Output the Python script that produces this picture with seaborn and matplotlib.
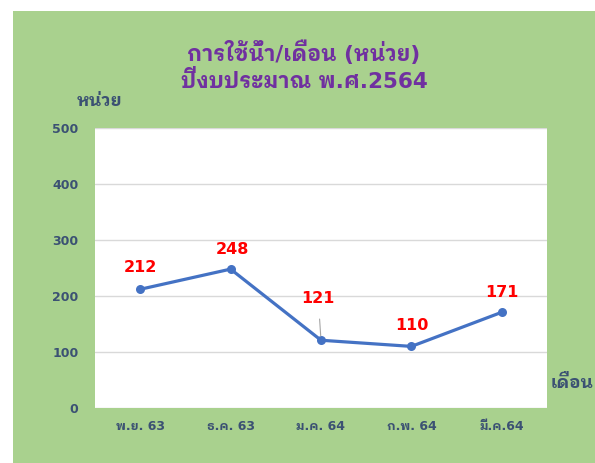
import matplotlib
matplotlib.use("Agg")
import matplotlib.pyplot as plt
from matplotlib.patches import Rectangle
import seaborn as sns
import pandas as pd

# data
months = ["พ.ย. 63", "ธ.ค. 63", "ม.ค. 64", "ก.พ. 64", "มี.ค.64"]
usage = [212, 248, 121, 110, 171]
y_ticks = [0, 100, 200, 300, 400, 500]

title_text = "การใช้น้ำ/เดือน (หน่วย)\nปีงบประมาณ พ.ศ.2564"
y_label = "หน่วย"
x_label = "เดือน"

sns.set_theme(style="white")
plt.rcParams["font.family"] = ["DejaVu Sans", "IBM Plex Sans Thai Looped"]

GREEN = "#a9d18e"
AXIS_TXT = "#3b5173"

df = pd.DataFrame({"month": months, "usage": usage})

fig = plt.figure(figsize=(5.95, 4.63), dpi=100, facecolor="white")
fig.add_artist(Rectangle((13 / 595, 0), 1, 1 - 11 / 463, transform=fig.transFigure,
                         facecolor=GREEN, edgecolor="none", zorder=-10))

ax = fig.add_axes([95 / 595, 1 - 408 / 463, 452 / 595, 280 / 463])
ax.set_zorder(1)
ax.set_facecolor("white")

sns.lineplot(data=df, x="month", y="usage", ax=ax, color="#4472c4", linewidth=2.3,
             marker="o", markersize=6.5, markeredgewidth=0, sort=False, zorder=3)

ax.set_xlim(-0.5, len(months) - 0.5)
ax.set_ylim(0, 500)
ax.set_yticks(y_ticks)
for y in y_ticks:
    ax.axhline(y, color="#d9d9d9", linewidth=1.0, zorder=1)
for s in ax.spines.values():
    s.set_visible(False)

ax.tick_params(axis="y", length=0, pad=12, labelsize=9, labelcolor=AXIS_TXT)
ax.tick_params(axis="x", length=0, pad=9, labelsize=9, labelcolor=AXIS_TXT)
for lbl in ax.get_xticklabels() + ax.get_yticklabels():
    lbl.set_fontweight("bold")
ax.set_xlabel("")
ax.set_ylabel("")

# data labels (offsets in points); the 121 label sits higher with a leader line
offsets = [(0, 16), (1, 14), (-2, 30), (0, 15), (0, 14)]
for i, (v, off) in enumerate(zip(usage, offsets)):
    arrow = None
    if off[1] > 20:
        arrow = dict(arrowstyle="-", color="#a6a6a6", lw=0.8, shrinkA=7, shrinkB=3)
    ax.annotate(str(v), (i, v), xytext=off, textcoords="offset points", ha="center", va="center",
                color="#ff0000", fontsize=11.5, fontweight="bold", arrowprops=arrow, zorder=4)

fig.text(304 / 595, 1 - 66 / 463, title_text, ha="center", va="center", color="#7030a0",
         fontsize=15.5, fontweight="bold", linespacing=1.28)
fig.text(99 / 595, 1 - 101 / 463, y_label, ha="center", va="center", color=AXIS_TXT,
         fontsize=12.5, fontweight="bold")
fig.text(572 / 595, 1 - 383 / 463, x_label, ha="center", va="center", color=AXIS_TXT,
         fontsize=12.5, fontweight="bold")

fig.savefig("out.png", dpi=100, facecolor="white")
